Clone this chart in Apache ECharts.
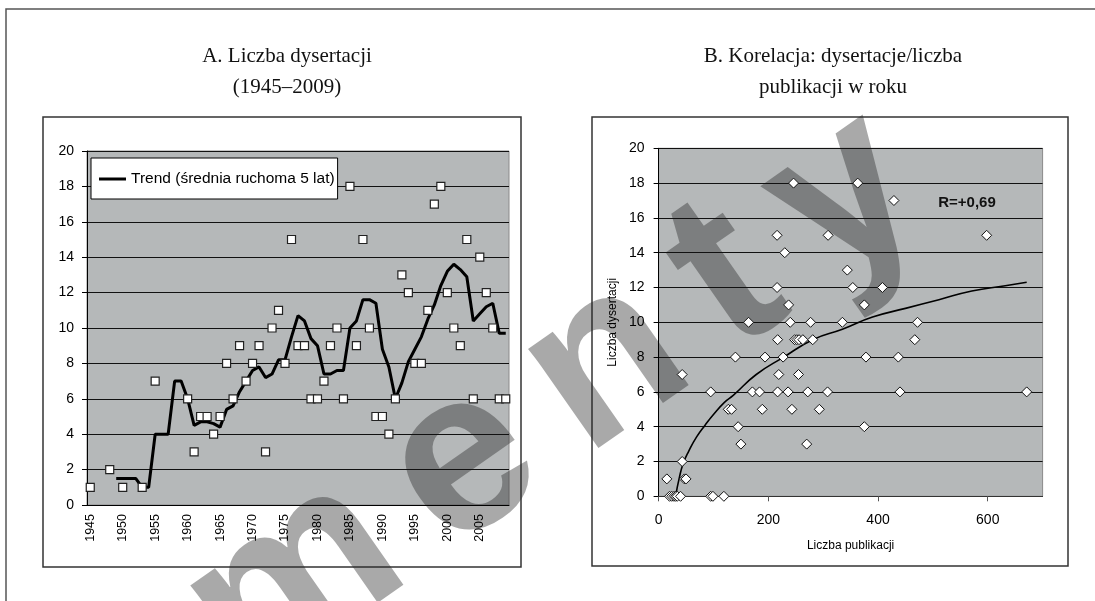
<!DOCTYPE html>
<html>
<head>
<meta charset="utf-8">
<script src="https://cdn.jsdelivr.net/npm/echarts@6/dist/echarts.min.js"></script>
<style>
  html, body { margin: 0; padding: 0; background: #fff; }
  #chart { width: 1095px; height: 601px; }
</style>
</head>
<body>
<div id="chart"></div>
<script>
// A: liczba dysertacji w latach 1945-2009 (null = brak punktu)
const years = [];
for (let y = 1945; y <= 2009; y++) years.push(String(y));

const dissertations = [
  1, null, null, 2, null, 1, null, null, 1, null, 7, null, null, null, null,
  6, 3, 5, 5, 4, 5, 8, 6, 9, 7,
  8, 9, 3, 10, 11, 8, 15, 9, 9, 6,
  6, 7, 9, 10, 6, 18, 9, 15, 10, 5,
  5, 4, 6, 13, 12, 8, 8, 11, 17, 18,
  12, 10, 9, 15, 6, 14, 12, 10, 6, 6
];

// srednia ruchoma 5 lat
const trend = [
  null, null, null, null, 1.5, 1.5, 1.5, 1.5, 1, 1, 4, 4, 4, 7, 7,
  6, 4.5, 4.7, 4.7, 4.6, 4.4, 5.4, 5.6, 6.4, 7,
  7.6, 7.8, 7.2, 7.4, 8.2, 8.2, 9.5, 10.7, 10.4, 9.4,
  9.0, 7.4, 7.4, 7.6, 7.6, 10.0, 10.4, 11.6, 11.6, 11.4,
  8.8, 7.8, 6.0, 6.9, 8.1, 8.8, 9.5, 10.5, 11.3, 12.4,
  13.2, 13.6, 13.3, 12.9, 10.4, 10.8, 11.2, 11.4, 9.7, 9.7
];

// B: liczba publikacji vs liczba dysertacji w roku
const pubCount = [
  15, 47, 50, 43, 150, 270, 145, 375, 127, 133, 189, 243, 293,
  95, 171, 184, 217, 236, 272, 308, 440, 671,
  43, 219, 255, 140, 194, 227, 378, 437,
  217, 248, 252, 256, 263, 281, 467,
  164, 240, 277, 335, 472, 237, 375, 216, 354, 408,
  344, 230, 216, 309, 598, 429, 246, 363,
  20, 24, 28, 31, 34, 40, 95, 99, 119
];
const dissCount = [
  1, 1, 1, 2, 3, 3, 4, 4, 5, 5, 5, 5, 5,
  6, 6, 6, 6, 6, 6, 6, 6, 6,
  7, 7, 7, 8, 8, 8, 8, 8,
  9, 9, 9, 9, 9, 9, 9,
  10, 10, 10, 10, 10, 11, 11, 12, 12, 12,
  13, 14, 15, 15, 15, 17, 18, 18,
  0, 0, 0, 0, 0, 0, 0, 0, 0
];

// linia trendu (logarytmiczna)
const fitX = [31, 38, 45, 55, 69, 85, 100, 120, 136, 178, 228, 281, 335, 390, 450, 511, 571, 632, 671];
const fitY = [0, 1.1, 1.9, 2.6, 3.4, 4.1, 4.7, 5.4, 5.8, 7.0, 8.0, 9.0, 9.6, 10.3, 10.8, 11.3, 11.8, 12.1, 12.3];

const xTicksB = [0, 200, 400, 600];
const trendName = 'Trend (średnia ruchoma 5 lat)';
const corrLabel = 'R=+0,69';
const titleA = 'A. Liczba dysertacji\n(1945–2009)';
const titleB = 'B. Korelacja: dysertacje/liczba\npublikacji w roku';
const watermark = ['m', 'e', 'n', 't', 'y'];

const plotGray = '#b5b8b9';
const sans = 'Liberation Sans, Arial, sans-serif';

// litery znaku wodnego rozstawione wzdluz linii
const wmGap = 40, wmSize = 230;
let wmX = 0;
const wmLetters = watermark.map(ch => {
  const el = { type: 'text', x: wmX, y: 0,
    style: { text: ch, fontFamily: sans, fontSize: wmSize, fontWeight: 'bold',
             fill: 'rgba(40,40,40,0.40)', textAlign: 'left', textVerticalAlign: 'bottom' } };
  const w = { m: 0.889, e: 0.556, n: 0.611, t: 0.333, y: 0.556 }[ch];
  wmX += w * wmSize + wmGap;
  return el;
});

const chart = echarts.init(document.getElementById('chart'));

chart.setOption({
  animation: false,
  backgroundColor: '#fff',
  title: [
    { text: titleA, left: 282, top: 36, textAlign: 'center',
      textStyle: { fontFamily: 'Liberation Serif', fontSize: 21, fontWeight: 'normal', color: '#111', lineHeight: 31 } },
    { text: titleB, left: 828, top: 36, textAlign: 'center',
      textStyle: { fontFamily: 'Liberation Serif', fontSize: 21, fontWeight: 'normal', color: '#111', lineHeight: 31 } }
  ],
  legend: {
    data: [trendName],
    left: 91, top: 158,
    backgroundColor: '#fff', borderColor: '#000', borderWidth: 1,
    padding: [13, 3, 12, 8],
    icon: 'rect', itemWidth: 27, itemHeight: 3,
    textStyle: { fontFamily: sans, fontSize: 15.5, color: '#000' }
  },
  grid: [
    { left: 87, top: 151, width: 422, height: 354, show: true,
      backgroundColor: plotGray, borderColor: '#8a8a8a', borderWidth: 1 },
    { left: 658.6, top: 148.3, width: 384, height: 348, show: true,
      backgroundColor: plotGray, borderColor: '#8a8a8a', borderWidth: 1 }
  ],
  xAxis: [
    { gridIndex: 0, type: 'category', data: years, boundaryGap: true,
      axisLine: { lineStyle: { color: '#000' } },
      axisTick: { interval: 0, length: 4, lineStyle: { color: '#000' } },
      axisLabel: { interval: 4, rotate: 90, fontFamily: sans, fontSize: 12.5, color: '#000', margin: 9 } },
    { gridIndex: 1, type: 'value', min: 0, max: 700, interval: 100,
      name: 'Liczba publikacji', nameLocation: 'middle', nameGap: 43,
      nameTextStyle: { fontFamily: sans, fontSize: 12, color: '#000' },
      axisLine: { lineStyle: { color: '#333' } },
      axisTick: { customValues: xTicksB, length: 5, lineStyle: { color: '#555' } },
      axisLabel: { customValues: xTicksB, fontFamily: sans, fontSize: 14, color: '#000', margin: 17 },
      splitLine: { show: false } }
  ],
  yAxis: [
    { gridIndex: 0, type: 'value', min: 0, max: 20, interval: 2,
      axisLine: { show: true, lineStyle: { color: '#000' } },
      axisTick: { show: true, length: 5, lineStyle: { color: '#000' } },
      axisLabel: { fontFamily: sans, fontSize: 14, color: '#000', margin: 13 },
      splitLine: { lineStyle: { color: '#111', width: 1 } } },
    { gridIndex: 1, type: 'value', min: 0, max: 20, interval: 2,
      name: 'Liczba dysertacji', nameLocation: 'middle', nameGap: 40,
      nameTextStyle: { fontFamily: sans, fontSize: 12, color: '#000' },
      axisLine: { show: true, lineStyle: { color: '#000' } },
      axisTick: { show: true, length: 5, lineStyle: { color: '#000' } },
      axisLabel: { fontFamily: sans, fontSize: 14, color: '#000', margin: 14 },
      splitLine: { lineStyle: { color: '#111', width: 1 } } }
  ],
  series: [
    {
      name: 'Dysertacje', type: 'scatter', xAxisIndex: 0, yAxisIndex: 0,
      data: dissertations.map((v, i) => v == null ? null : [years[i], v]).filter(d => d),
      symbol: 'rect', symbolSize: 8, z: 4,
      itemStyle: { color: '#fff', borderColor: '#222', borderWidth: 1.2, opacity: 1 }
    },
    {
      name: trendName, type: 'line', xAxisIndex: 0, yAxisIndex: 0,
      data: trend.map(v => v == null ? '-' : v),
      symbol: 'none', z: 3,
      lineStyle: { color: '#000', width: 3 }, itemStyle: { color: '#000' }
    },
    {
      name: 'Korelacja', type: 'scatter', xAxisIndex: 1, yAxisIndex: 1,
      data: pubCount.map((p, i) => [p, dissCount[i]]),
      symbol: 'diamond', symbolSize: [10, 10], z: 4,
      itemStyle: { color: '#fff', borderColor: '#111', borderWidth: 1, opacity: 1 }
    },
    {
      name: 'Trend log', type: 'line', xAxisIndex: 1, yAxisIndex: 1,
      data: fitX.map((x, i) => [x, fitY[i]]),
      symbol: 'none', smooth: true, z: 3,
      lineStyle: { color: '#000', width: 1.6 }
    }
  ],
  graphic: [
    // ramki
    { type: 'polyline', z: 0, shape: { points: [[6, 601], [6, 9], [1095, 9]] },
      style: { fill: 'none', stroke: '#555', lineWidth: 1.5 } },
    { type: 'rect', z: 0, shape: { x: 43, y: 117, width: 478, height: 450 },
      style: { fill: 'none', stroke: '#333', lineWidth: 1.5 } },
    { type: 'rect', z: 0, shape: { x: 592, y: 117, width: 476, height: 449 },
      style: { fill: 'none', stroke: '#333', lineWidth: 1.5 } },
    { type: 'text', z: 10, x: 967, y: 203,
      style: { text: corrLabel, fontFamily: sans, fontSize: 15, fontWeight: 'bold', fill: '#111',
               textAlign: 'center', textVerticalAlign: 'middle' } },
    // znak wodny
    { type: 'group', z: 3, x: 277, y: 736, rotation: 35 * Math.PI / 180,
      children: wmLetters }
  ]
});

window.onresize = function () {
  chart.resize();
};
</script>
</body>
</html>
